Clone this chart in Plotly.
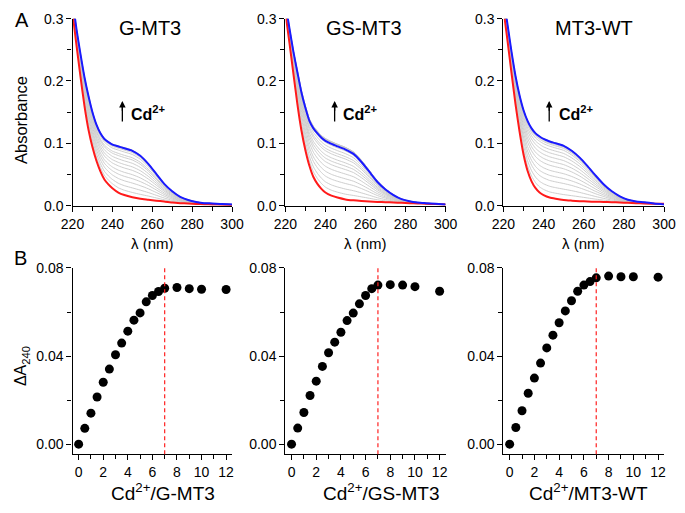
import plotly.graph_objects as go

# ---------------- data ----------------
wavelength = [220, 222, 224, 226, 228, 230, 232, 234, 236, 238, 240, 243, 246, 250,
              254, 258, 262, 266, 270, 274, 278, 282, 286, 290, 295, 300]

gmt3_apo = [0.31, 0.257, 0.207, 0.160, 0.122, 0.094, 0.072, 0.055, 0.042, 0.034, 0.028, 0.021, 0.017,
            0.0135, 0.011, 0.0095, 0.008, 0.0065, 0.005, 0.004, 0.0033, 0.0027, 0.0022, 0.002, 0.0015, 0.001]
gmt3_cd = [0.33, 0.283, 0.243, 0.206, 0.176, 0.150, 0.130, 0.116, 0.107, 0.102, 0.098, 0.095, 0.092,
           0.088, 0.080, 0.067, 0.051, 0.035, 0.023, 0.014, 0.009, 0.006, 0.004, 0.0035, 0.0025, 0.002]

gsmt3_apo = [0.31, 0.262, 0.212, 0.163, 0.121, 0.089, 0.064, 0.046, 0.035, 0.027, 0.021, 0.016, 0.013,
             0.010, 0.0085, 0.0075, 0.0068, 0.006, 0.0055, 0.005, 0.0045, 0.004, 0.0035, 0.003, 0.0025, 0.002]
gsmt3_cd = [0.325, 0.285, 0.247, 0.214, 0.182, 0.157, 0.136, 0.124, 0.116, 0.109, 0.104, 0.099, 0.095,
            0.090, 0.083, 0.070, 0.054, 0.038, 0.026, 0.017, 0.0105, 0.007, 0.005, 0.004, 0.003, 0.002]

wt_apo = [0.315, 0.265, 0.213, 0.163, 0.119, 0.082, 0.056, 0.039, 0.028, 0.021, 0.017, 0.013, 0.011,
          0.009, 0.008, 0.0072, 0.0066, 0.0062, 0.006, 0.0055, 0.005, 0.0045, 0.004, 0.0035, 0.003, 0.003]
wt_cd = [0.335, 0.291, 0.247, 0.208, 0.177, 0.153, 0.136, 0.124, 0.116, 0.111, 0.107, 0.103, 0.100,
         0.096, 0.088, 0.077, 0.063, 0.048, 0.034, 0.023, 0.015, 0.0095, 0.0068, 0.0055, 0.0035, 0.002]

cd_ratio = [0, 0.5, 1, 1.5, 2, 2.5, 3, 3.5, 4, 4.5, 5, 5.5, 6, 6.5, 7, 8, 9, 10, 12]
gmt3_dA = [0, 0.0072, 0.0141, 0.0214, 0.0281, 0.0341, 0.0406, 0.0459, 0.0513, 0.0563, 0.0596,
           0.0646, 0.0675, 0.0693, 0.0708, 0.0711, 0.0706, 0.0703, 0.0702]
gsmt3_dA = [0, 0.0073, 0.0144, 0.0221, 0.0286, 0.0353, 0.0415, 0.0463, 0.0508, 0.0561, 0.0595,
            0.0637, 0.0675, 0.0706, 0.0722, 0.0724, 0.0722, 0.0715, 0.0694]
wt_dA = [0, 0.0076, 0.0152, 0.0231, 0.0300, 0.0368, 0.0437, 0.0495, 0.0551, 0.0605, 0.0651,
         0.0694, 0.0722, 0.0738, 0.0755, 0.0763, 0.0760, 0.0760, 0.0758]

names = ["G-MT3", "GS-MT3", "MT3-WT"]
saturation_ratio = 7

# ---------------- layout helpers ----------------
W, H = 685, 513
FONT = "Liberation Sans, Arial, sans-serif"


def px(x):
    return x / W


def py(y):
    return 1 - y / H


x_domains = [(62.7, 228), (283.3, 449.3), (509.3, 675.7)]
top_y = (204, 11)
bot_y = (460.7, 268.3)

fig = go.Figure()

panels = [
    (gmt3_apo, gmt3_cd, gmt3_dA),
    (gsmt3_apo, gsmt3_cd, gsmt3_dA),
    (wt_apo, wt_cd, wt_dA),
]

axis_common = dict(showline=True, linecolor="black", linewidth=1.3, ticks="outside",
                   ticklen=5, tickwidth=1.2, tickcolor="black", showgrid=False, zeroline=False,
                   tickfont=dict(family=FONT, size=14, color="black"), mirror=False)

for i, (apo, cd, dA) in enumerate(panels):
    ti = i + 1          # top axes index
    bi = i + 4          # bottom axes index
    xt = "x" if ti == 1 else f"x{ti}"
    yt = "y" if ti == 1 else f"y{ti}"
    xb, yb = f"x{bi}", f"y{bi}"

    # gray intermediate spectra (one per titration point)
    for k in range(1, len(dA) - 1):
        frac = dA[k] / dA[-1]
        spec = [a + frac * (c - a) for a, c in zip(apo, cd)]
        fig.add_trace(go.Scatter(x=wavelength, y=spec, mode="lines", xaxis=xt, yaxis=yt,
                                 line=dict(color="#c8c8c8", width=0.9, shape="spline", smoothing=0.6),
                                 showlegend=False, hoverinfo="skip"))
    fig.add_trace(go.Scatter(x=wavelength, y=apo, mode="lines", xaxis=xt, yaxis=yt,
                             line=dict(color="#ff1a1a", width=2, shape="spline", smoothing=0.6),
                             showlegend=False))
    fig.add_trace(go.Scatter(x=wavelength, y=cd, mode="lines", xaxis=xt, yaxis=yt,
                             line=dict(color="#1a1aff", width=2, shape="spline", smoothing=0.6),
                             showlegend=False))

    fig.add_trace(go.Scatter(x=cd_ratio, y=dA, mode="markers", xaxis=xb, yaxis=yb,
                             marker=dict(color="black", size=9), showlegend=False,
                             cliponaxis=False))

    dom = [px(x_domains[i][0]), px(x_domains[i][1])]
    fig.layout[f"xaxis{'' if ti == 1 else ti}"] = dict(
        axis_common, domain=dom, anchor=yt, range=[220, 300], tickvals=[220, 240, 260, 280, 300],
        minor=dict(tickvals=[230, 250, 270, 290], ticklen=4, tickwidth=1.2, tickcolor="black", ticks="outside"))
    fig.layout[f"yaxis{'' if ti == 1 else ti}"] = dict(
        axis_common, domain=[py(top_y[0]), py(top_y[1])], anchor=xt, range=[0, 0.3],
        tickvals=[0, 0.1, 0.2, 0.3], ticktext=["0.0", "0.1", "0.2", "0.3"],
        minor=dict(tickvals=[0.05, 0.15, 0.25], ticklen=4, tickwidth=1.2, tickcolor="black", ticks="outside"))
    fig.layout[f"xaxis{bi}"] = dict(
        axis_common, domain=dom, anchor=yb, range=[-0.5, 12.48], tickvals=[0, 2, 4, 6, 8, 10, 12],
        minor=dict(tickvals=[1, 3, 5, 7, 9, 11], ticklen=4, tickwidth=1.2, tickcolor="black", ticks="outside"))
    fig.layout[f"yaxis{bi}"] = dict(
        axis_common, domain=[py(bot_y[0]), py(bot_y[1])], anchor=xb, range=[-0.0046, 0.08],
        tickvals=[0, 0.04, 0.08], ticktext=["0.00", "0.04", "0.08"],
        minor=dict(tickvals=[0.02, 0.06], ticklen=4, tickwidth=1.2, tickcolor="black", ticks="outside"))

    # dashed saturation line
    fig.add_shape(type="line", xref=xb, yref=f"{yb} domain", x0=saturation_ratio, x1=saturation_ratio,
                  y0=0, y1=1, line=dict(color="#ff2020", width=1.2, dash="4px,3px"))

# ---------------- annotations ----------------
ann = []
title_pos = [(142.7, 20.7), (365, 20.5), (603, 20.5)]
for (x, y), n in zip(title_pos, names):
    ann.append(dict(x=px(x), y=py(y), xref="paper", yref="paper", text=n, showarrow=False,
                    font=dict(family=FONT, size=20, color="black"), xanchor="center", yanchor="middle"))

arrow_x = [245, 244.6, 242.8]
text_x = [248.3, 248.0, 246.6]
for i in range(3):
    xt = "x" if i == 0 else f"x{i + 1}"
    yt = "y" if i == 0 else f"y{i + 1}"
    fig.add_shape(type="line", xref=xt, yref=yt, x0=arrow_x[i], x1=arrow_x[i], y0=0.135, y1=0.160,
                  line=dict(color="black", width=1.3))
    ann.append(dict(x=arrow_x[i], y=0.168, ax=arrow_x[i], ay=0.150, xref=xt, yref=yt, axref=xt, ayref=yt,
                    text="", showarrow=True, arrowhead=2, arrowsize=1, arrowwidth=1.3, arrowcolor="black"))
    ann.append(dict(x=text_x[i], y=0.149, xref=xt, yref=yt, text="<b>Cd<sup>2+</sup></b>", showarrow=False,
                    font=dict(family=FONT, size=16, color="black"), xanchor="left", yanchor="middle"))

# axis titles
ann.append(dict(x=px(10), y=py(116), xref="paper", yref="paper", text="Absorbance", textangle=-90,
                showarrow=False, font=dict(family=FONT, size=16.5, color="black"),
                xanchor="center", yanchor="middle"))
ann.append(dict(x=px(10), y=py(370), xref="paper", yref="paper", text="ΔA<sub>240</sub>", textangle=-90,
                showarrow=False, font=dict(family=FONT, size=16, color="black"),
                xanchor="center", yanchor="middle"))
for i in range(3):
    cx = (x_domains[i][0] + x_domains[i][1]) / 2
    ann.append(dict(x=px(cx), y=py(243), xref="paper", yref="paper", text="λ (nm)", showarrow=False,
                    font=dict(family=FONT, size=15, color="black"), xanchor="center", yanchor="middle"))
bottom_title_x = [156, 383, 597.5]
for i in range(3):
    ann.append(dict(x=px(bottom_title_x[i]), y=py(500), xref="paper", yref="paper",
                    text=f"Cd<sup>2+</sup>/{names[i]}", showarrow=False,
                    font=dict(family=FONT, size=19, color="black"), xanchor="center", yanchor="middle"))

ann.append(dict(x=px(10), y=py(12), xref="paper", yref="paper", text="A", showarrow=False,
                font=dict(family=FONT, size=20, color="black"), xanchor="center", yanchor="middle"))
ann.append(dict(x=px(9), y=py(258), xref="paper", yref="paper", text="B", showarrow=False,
                font=dict(family=FONT, size=20, color="black"), xanchor="center", yanchor="middle"))

fig.update_layout(width=W, height=H, margin=dict(l=0, r=0, t=0, b=0), paper_bgcolor="white",
                  plot_bgcolor="white", annotations=ann, showlegend=False,
                  font=dict(family=FONT, color="black"))

fig.write_html("out.html", config={"displayModeBar": False},
               post_script="document.body.style.margin='0';document.body.style.padding='0';")
